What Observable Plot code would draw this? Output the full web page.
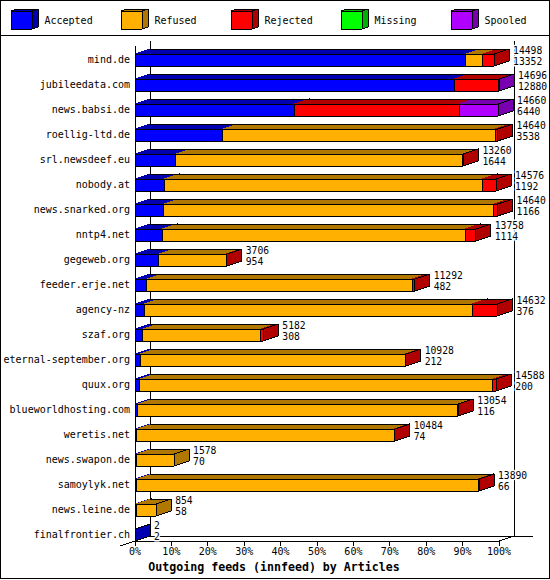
<!DOCTYPE html>
<html>
<head>
<meta charset="utf-8">
<script src="https://cdn.jsdelivr.net/npm/d3@7"></script>
<script src="https://cdn.jsdelivr.net/npm/@observablehq/plot@0.6"></script>
<style>
  html, body { margin: 0; padding: 0; background: #fff; }
  #page { position: relative; width: 550px; height: 580px; overflow: hidden; }
  #frame { position: absolute; left: 0; top: 0; width: 550px; height: 579px; box-sizing: border-box; border: 1px solid #000; pointer-events: none; }
  #legend { position: absolute; left: 0; top: 0; width: 550px; height: 35px; }
  #rule { position: absolute; left: 0; top: 35px; width: 550px; height: 1px; background: #000; }
  #chart { position: absolute; left: 0; top: 36px; }
  #title { position: absolute; left: 0; width: 548px; top: 560px; text-align: center; font: bold 11.6px/14px "DejaVu Sans Mono", monospace; color: #000; }
  svg path, svg line, svg rect { shape-rendering: crispEdges; }
  svg { display: block; overflow: visible; }
</style>
</head>
<body>
<div id="page">
  <div id="legend"></div>
  <div id="rule"></div>
  <div id="chart"></div>
  <div id="title">Outgoing feeds (innfeed) by Articles</div>
  <div id="frame"></div>
</div>
<script>
const hosts = ["mind.de","jubileedata.com","news.babsi.de","roellig-ltd.de","srl.newsdeef.eu","nobody.at","news.snarked.org","nntp4.net","gegeweb.org","feeder.erje.net","agency-nz","szaf.org","eternal-september.org","quux.org","blueworldhosting.com","weretis.net","news.swapon.de","samoylyk.net","news.leine.de","finalfrontier.ch"];
const totals   = [14498,14696,14660,14640,13260,14576,14640,13758,3706,11292,14632,5182,10928,14588,13054,10484,1578,13890,854,2];
const accepted = [13352,12880,6440,3538,1644,1192,1166,1114,954,482,376,308,212,200,116,74,70,66,58,2];
const refused  = [684,0,0,11002,11596,12842,13314,12232,2722,10710,13254,4764,10696,14240,12918,10400,1508,13804,796,0];
const rejected = [462,1804,6650,100,20,542,160,412,30,100,1002,110,20,148,20,10,0,20,0,0];
const missing  = [0,0,0,0,0,0,0,0,0,0,0,0,0,0,0,0,0,0,0,0];
const spooled  = [0,12,1570,0,0,0,0,0,0,0,0,0,0,0,0,0,0,0,0,0];

const seriesNames = ["Accepted","Refused","Rejected","Missing","Spooled"];
const seriesValues = [accepted, refused, rejected, missing, spooled];
const frontColors = ["#0000ff","#ffb000","#ff0000","#00ff00","#b000ff"];
const darkColors  = ["#0000b0","#b07800","#b00000","#00b000","#7800b0"];

const maxTotal = d3.max(totals);
const pct = v => v / maxTotal * 100;
const pctTicks = d3.range(0, 101, 10);

// depth of the 3D look, in scale units
const depthX = 15 / 3.64;   // percent
const depthY = 0.2;         // rows
const barH = 0.48;          // rows

const polys = [], backEdges = [];
let pid = 0;
function addPoly(list, pts, color, edge) {
  const id = pid++;
  for (const [x, y] of pts) list.push({x, y, id, color, edge});
}
hosts.forEach((h, i) => {
  const b = i + 1, t = b - barH;
  let cum = 0;
  seriesValues.forEach((vals, s) => {
    const v = vals[i];
    if (!v) return;
    const a = pct(cum), e = pct(cum + v);
    cum += v;
    addPoly(polys, [[a,t],[e,t],[e+depthX,t-depthY],[a+depthX,t-depthY],[a,t]], darkColors[s], darkColors[s]);
    addPoly(polys, [[e,t],[e+depthX,t-depthY],[e+depthX,b-depthY],[e,b],[e,t]], darkColors[s], "#000");
    addPoly(polys, [[a,t],[e,t],[e,b],[a,b],[a,t]], frontColors[s], "#000");
  });
  backEdges.push({x: depthX, y: t - depthY, i}, {x: pct(totals[i]) + depthX, y: t - depthY, i});
});

const frameLines = [
  [[0, depthY],[0, 20]],
  [[depthX, 0],[depthX, 20 - depthY]],
  [[100 + depthX, 0],[100 + depthX, 20 - depthY]],
  [[depthX, 20 - depthY],[100 + depthX + 5.2, 20 - depthY]],
  [[0, 20],[100, 20],[100 + depthX, 20 - depthY]],
  [[-depthX, 20 + depthY],[0, 20]]
].flatMap((pts, k) => pts.map(([x, y]) => ({x, y, k})));

const monoFont = '"DejaVu Sans Mono", monospace';

const chart = Plot.plot({
  width: 550, height: 544,
  marginLeft: 134.5, marginRight: 51.5, marginTop: 4.5, marginBottom: 39.5,
  style: {background: "transparent", fontFamily: monoFont, fontSize: "10px", color: "#000"},
  x: {domain: [0, 100]},
  y: {domain: [0, 20], reverse: true},
  color: {type: "identity"},
  marks: [
    Plot.line(frameLines, {x: "x", y: "y", z: "k", stroke: "#000", strokeWidth: 1}),
    Plot.line(polys, {x: "x", y: "y", z: "id", fill: "color", stroke: "edge", strokeWidth: 1}),
    Plot.line(backEdges, {x: "x", y: "y", z: "i", stroke: "#000", strokeWidth: 1}),
    Plot.axisX({anchor: "bottom", ticks: pctTicks, tickFormat: d => d + "%", tickSize: 5, tickPadding: 2, label: null, fontSize: 10, stroke: "#000", fill: "#000"}),
    Plot.axisY({anchor: "left", ticks: hosts.map((_, i) => i + 0.76), tickFormat: d => hosts[Math.floor(d)], tickSize: 0, tickPadding: 5, label: null, fontSize: 10, fill: "#000"}),
    Plot.text(totals, {x: d => pct(d) + depthX, y: (d, i) => i + 0.4, text: d => String(d), dx: 4, textAnchor: "start", fill: "#000", stroke: "#fff", strokeWidth: 3, fontSize: 9.7}),
    Plot.text(accepted, {x: (d, i) => pct(totals[i]) + depthX, y: (d, i) => i + 0.83, text: d => String(d), dx: 4, textAnchor: "start", fill: "#000", stroke: "#fff", strokeWidth: 3, fontSize: 9.7})
  ]
});
document.getElementById("chart").append(chart);

// legend: one small cube per series, in units of one legend slot
const legendPolys = [];
const slot = 110;
seriesNames.forEach((n, s) => {
  const x0 = s + 10.5 / slot, x1 = s + 31.5 / slot, dx = 6 / slot;
  const t = 10.5, b = 28.5, dy = 2;
  addPoly(legendPolys, [[x0,t],[x1,t],[x1+dx,t-dy],[x0+dx,t-dy],[x0,t]], darkColors[s], "#000");
  addPoly(legendPolys, [[x1,t],[x1+dx,t-dy],[x1+dx,b-dy],[x1,b],[x1,t]], darkColors[s], "#000");
  addPoly(legendPolys, [[x0,t],[x1,t],[x1,b],[x0,b],[x0,t]], frontColors[s], "#000");
});
const legend = Plot.plot({
  width: 550, height: 35,
  margin: 0,
  style: {background: "transparent", fontFamily: monoFont, fontSize: "10px"},
  x: {domain: [0, 5], axis: null},
  y: {domain: [0, 35], reverse: true, axis: null},
  color: {type: "identity"},
  marks: [
    Plot.line(legendPolys, {x: "x", y: "y", z: "id", fill: "color", stroke: "edge", strokeWidth: 1}),
    Plot.text(seriesNames, {x: (d, i) => i + 44 / slot, y: () => 20, text: d => d, textAnchor: "start", fill: "#000", fontSize: 10})
  ]
});
document.getElementById("legend").append(legend);
</script>
</body>
</html>
